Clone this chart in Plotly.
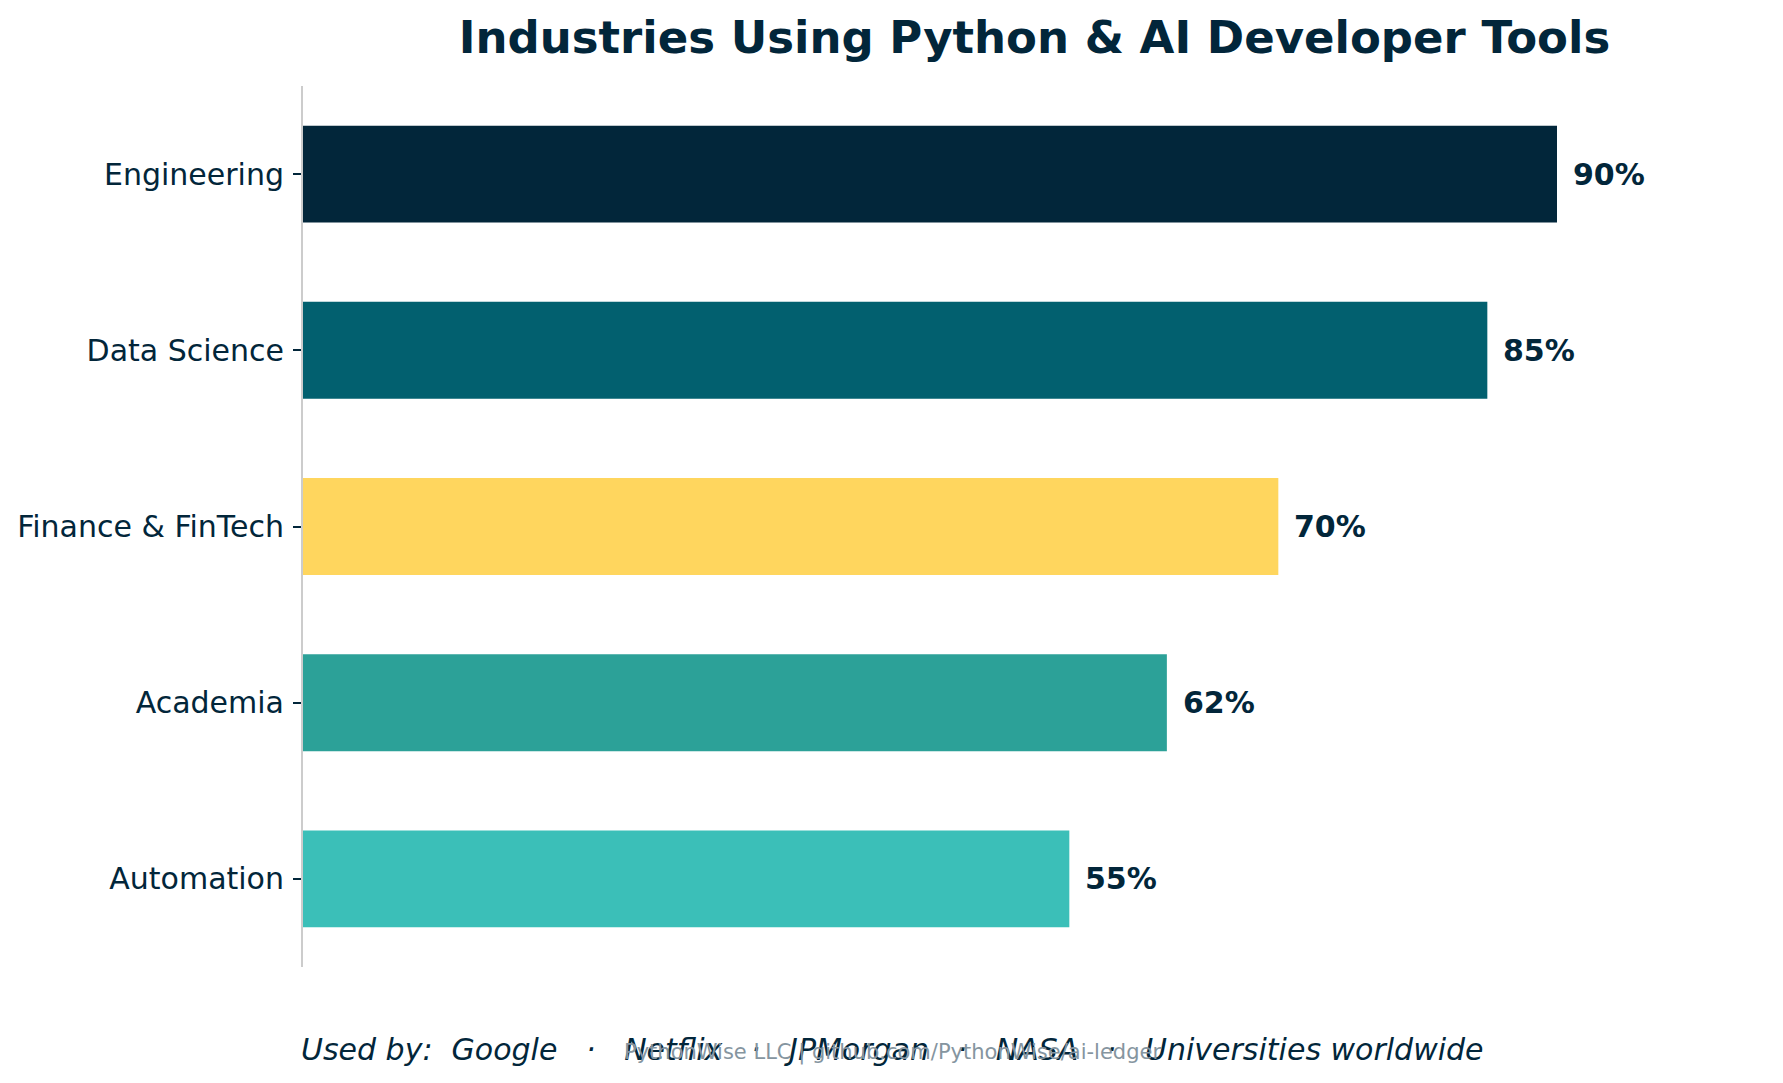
import plotly.graph_objects as go

industries = ["Engineering", "Data Science", "Finance & FinTech", "Academia", "Automation"]
adoption = [90, 85, 70, 62, 55]
bar_colors = ["#02263A", "#02606F", "#FFD65E", "#2CA198", "#3BBFB8"]
value_labels = [f"{v}%" for v in adoption]

title_text = "Industries Using Python & AI Developer Tools"
used_by = ["Google", "Netflix", "JPMorgan", "NASA", "Universities worldwide"]
credit_text = "PythonWise LLC | github.com/PythonWise/ai-ledger"

DARK = "#02263A"
FONT = "DejaVu Sans"

# plot bottom-to-top
cats = industries[::-1]
vals = adoption[::-1]
cols = bar_colors[::-1]
labs = value_labels[::-1]

fig = go.Figure()
fig.add_trace(go.Bar(
    x=vals, y=cats, orientation="h",
    marker=dict(color=cols, line=dict(width=0)),
    hoverinfo="skip",
))

for c, v, t in zip(cats, vals, labs):
    fig.add_annotation(x=v, y=c, xref="x", yref="y", text=f"<b>{t}</b>",
                       showarrow=False, xanchor="left", yanchor="middle",
                       xshift=14, font=dict(family=FONT, size=30, color=DARK))

nb = "\u00a0"
sep = f"{nb}{nb}{nb}·{nb}{nb}{nb}"
footer = f"Used by:{nb}{nb}" + sep.join(used_by)
fig.add_annotation(x=0.4027, y=-0.094, xref="paper", yref="paper",
                   text=f"<i>{footer}</i>", showarrow=False,
                   xanchor="center", yanchor="middle",
                   font=dict(family=FONT, size=30, color=DARK))
fig.add_annotation(x=0.4027, y=-0.0975, xref="paper", yref="paper",
                   text=credit_text, showarrow=False,
                   xanchor="center", yanchor="middle",
                   font=dict(family=FONT, size=21, color="#8595A0"))

fig.update_layout(
    width=1783, height=1083,
    margin=dict(l=303, r=17, t=86, b=116),
    paper_bgcolor="white", plot_bgcolor="white",
    bargap=0.45,
    showlegend=False,
    title=dict(text=f"<b>{title_text}</b>", x=0.5, xref="paper",
               xanchor="center", y=1 - 37 / 1083, yref="container",
               yanchor="middle",
               font=dict(family=FONT, size=45, color=DARK)),
    font=dict(family=FONT, color=DARK),
)
fig.update_xaxes(range=[0, 105], visible=False, showgrid=False, zeroline=False)
fig.update_yaxes(categoryorder="array", categoryarray=cats, range=[-0.5, 4.5],
                 showline=True, linecolor="#CCCCCC", linewidth=2,
                 ticks="outside", ticklen=8, tickwidth=1.5, tickcolor=DARK,
                 ticklabelstandoff=3,
                 tickfont=dict(family=FONT, size=30, color=DARK),
                 showgrid=False, zeroline=False)

fig.write_html("out.html")
